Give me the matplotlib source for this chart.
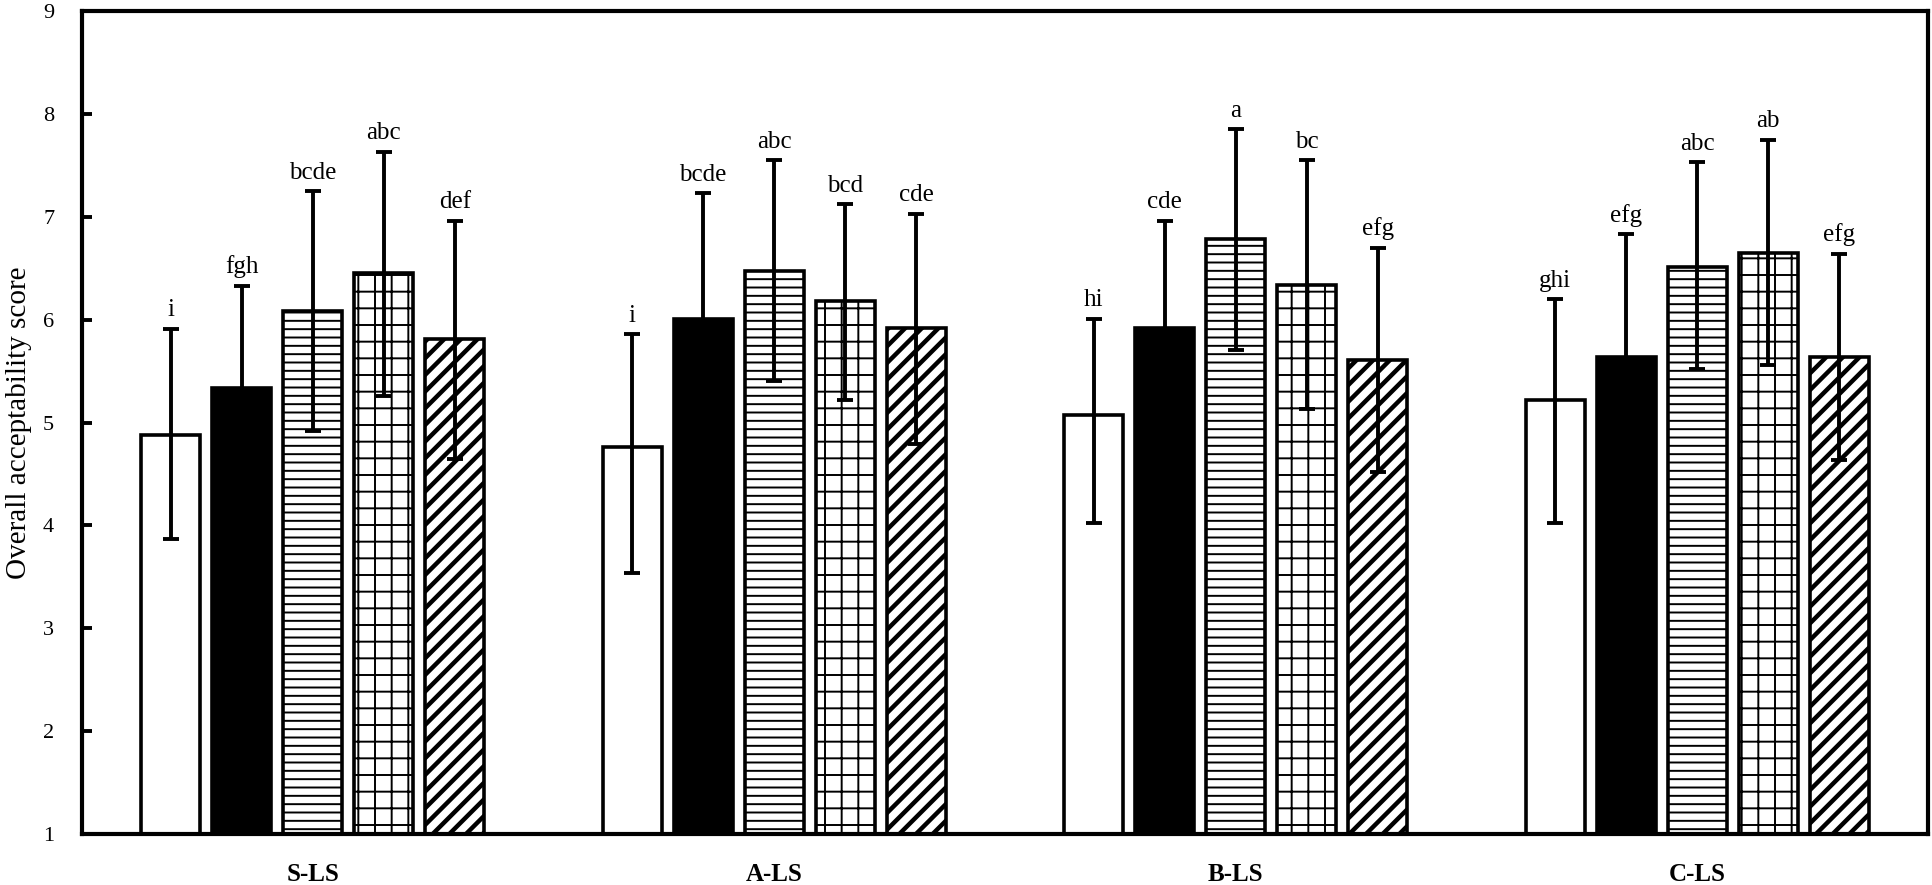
import matplotlib
matplotlib.use("Agg")
import matplotlib.pyplot as plt
import numpy as np

# ---- data ----
groups = ["S-LS", "A-LS", "B-LS", "C-LS"]
treatments = ["T1", "T2", "T3", "T4", "T5"]
means = [
    [4.88, 5.34, 6.08, 6.45, 5.81],
    [4.76, 6.01, 6.47, 6.18, 5.92],
    [5.07, 5.92, 6.78, 6.34, 5.61],
    [5.22, 5.64, 6.51, 6.65, 5.64],
]
err_up = [
    [1.03, 0.99, 1.17, 1.18, 1.15],
    [1.10, 1.22, 1.08, 0.94, 1.11],
    [0.94, 1.04, 1.07, 1.21, 1.09],
    [0.98, 1.19, 1.02, 1.10, 1.00],
]
err_low = [
    [1.01, 0.99, 1.16, 1.19, 1.16],
    [1.22, 1.22, 1.07, 0.96, 1.13],
    [1.05, 1.04, 1.08, 1.21, 1.09],
    [1.20, 1.19, 0.99, 1.09, 1.00],
]
letters = [
    ["i", "fgh", "bcde", "abc", "def"],
    ["i", "bcde", "abc", "bcd", "cde"],
    ["hi", "cde", "a", "bc", "efg"],
    ["ghi", "efg", "abc", "ab", "efg"],
]
ylabel = "Overall acceptability score"
yticks = [1, 2, 3, 4, 5, 6, 7, 8, 9]

# ---- styles ----
faces = ["white", "black", "white", "white", "white"]
hatches = [None, None, "--", "+", "//"]
hatch_lw = [1.0, 1.0, 1.4, 1.4, 3.2]

plt.rcParams["font.family"] = ["Liberation Serif", "DejaVu Serif"]

fig = plt.figure(figsize=(19.32, 8.85), dpi=100)
ax = fig.add_axes([82 / 1932, 1 - 834 / 885, (1928 - 82) / 1932, (834 - 11) / 885])

pitch = 0.154
width = 0.128
x = np.arange(len(groups))
means_a = np.array(means)
up_a = np.array(err_up)
lo_a = np.array(err_low)

for j in range(len(treatments)):
    xs = x + (j - 2) * pitch
    plt.rcParams["hatch.linewidth"] = hatch_lw[j]
    bars = ax.bar(xs, means_a[:, j] - 1, bottom=1, width=width,
                  color=faces[j], edgecolor="black", linewidth=2.6,
                  hatch=hatches[j], zorder=2)
    for b in bars:
        if hasattr(b, "set_hatch_linewidth"):
            b.set_hatch_linewidth(hatch_lw[j])
    ax.errorbar(xs, means_a[:, j], yerr=[lo_a[:, j], up_a[:, j]],
                fmt="none", ecolor="black", elinewidth=2.8,
                capsize=6, capthick=2.8, zorder=3)
    for i in range(len(groups)):
        ax.annotate(letters[i][j], (xs[i], means_a[i, j] + up_a[i, j]),
                    xytext=(0, 9), textcoords="offset points",
                    ha="center", va="baseline", fontsize=18)

ax.set_xlim(-0.5, len(groups) - 0.5)
ax.set_ylim(1, 9)
ax.set_yticks(yticks)
ax.set_xticks(x)
ax.set_xticklabels(groups, fontsize=18, fontweight="bold")
ax.tick_params(axis="x", length=0, pad=21)
ax.tick_params(axis="y", direction="in", length=7, width=2.8, labelsize=16, pad=20)
ax.set_ylabel(ylabel, fontsize=21, labelpad=8)
for s in ax.spines.values():
    s.set_linewidth(3)

fig.savefig("out.png", dpi=100)
